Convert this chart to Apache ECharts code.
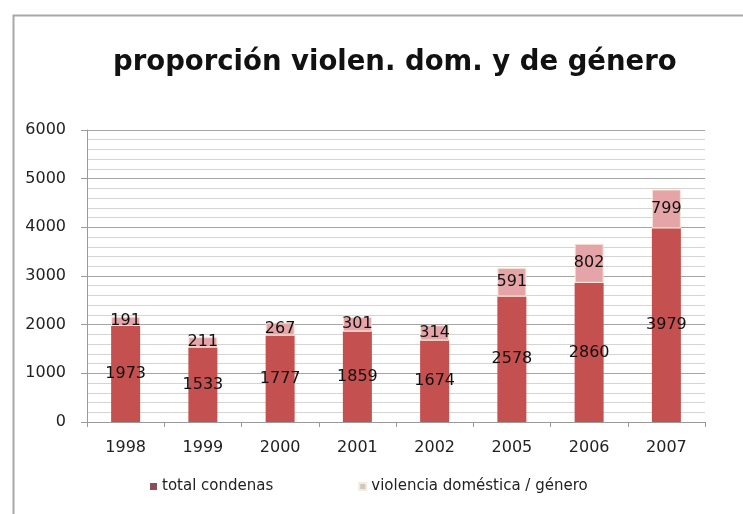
<!DOCTYPE html>
<html>
<head>
<meta charset="utf-8">
<script src="https://cdn.jsdelivr.net/npm/echarts@6/dist/echarts.min.js"></script>
<style>
html,body{margin:0;padding:0;background:#ffffff;}
#chart{width:743px;height:514px;}
</style>
</head>
<body>
<div id="chart"></div>
<script>
const titleText = 'proporción violen. dom. y de género';
const categories = ['1998','1999','2000','2001','2002','2005','2006','2007'];
const totalCondenas = [1973,1533,1777,1859,1674,2578,2860,3979];
const violencia = [191,211,267,301,314,591,802,799];
const seriesNames = ['total condenas','violencia doméstica / género'];
const yTicks = [0,1000,2000,3000,4000,5000,6000];

const FONT = 'DejaVu Sans';
const chart = echarts.init(document.getElementById('chart'), null, {renderer:'canvas'});
chart.setOption({
  backgroundColor:'#ffffff',
  animation:false,
  graphic:[{
    type:'rect', left:11, top:13, shape:{width:760, height:520},
    style:{fill:'none', stroke:'#a8a8a8', lineWidth:2}, z:-1, silent:true
  }],
  title:{
    text:titleText, left:108, top:44,
    textStyle:{fontFamily:FONT, fontSize:27.5, fontWeight:'bold', color:'#111'}
  },
  legend:{
    bottom:15, left:145, itemGap:85, itemWidth:7, itemHeight:7, icon:'rect',
    textStyle:{fontFamily:FONT, fontSize:15, color:'#222'},
    data:[
      {name:seriesNames[0], itemStyle:{color:'#8e4b5c'}},
      {name:seriesNames[1], itemStyle:{color:'#c9c9c9'}}
    ]
  },
  grid:{left:87, right:38, top:130, bottom:92},
  xAxis:{
    type:'category', data:categories, boundaryGap:true,
    axisLine:{lineStyle:{color:'#9a9a9a', width:1}},
    axisTick:{show:true, length:5, lineStyle:{color:'#9a9a9a'}},
    axisLabel:{fontFamily:FONT, fontSize:16, color:'#222', margin:18}
  },
  yAxis:{
    type:'value', min:0, max:6000, interval:1000,
    axisLine:{show:true, lineStyle:{color:'#9a9a9a'}},
    axisTick:{show:true, length:6, lineStyle:{color:'#9a9a9a'}},
    axisLabel:{fontFamily:FONT, fontSize:16, color:'#222', margin:21,
      formatter:function(v){ return yTicks.indexOf(v)>=0 ? String(v) : ''; }},
    splitLine:{show:true, lineStyle:{color:'#a5a5a5', width:1}},
    minorTick:{show:false, splitNumber:5},
    minorSplitLine:{show:true, lineStyle:{color:'#d4d4d4', width:1}}
  },
  series:[
    {
      name:seriesNames[0], type:'bar', stack:'s', data:totalCondenas, barWidth:29,
      itemStyle:{color:'#c4504f'},
      label:{show:true, position:'inside', fontFamily:FONT, fontSize:16, color:'#111'}
    },
    {
      name:seriesNames[1], type:'bar', stack:'s', data:violencia, barWidth:29,
      itemStyle:{color:'#e5a4a8', borderColor:'#f6ead8', borderWidth:1},
      label:{show:true, position:'inside', fontFamily:FONT, fontSize:16, color:'#111'}
    }
  ]
});
</script>
</body>
</html>
